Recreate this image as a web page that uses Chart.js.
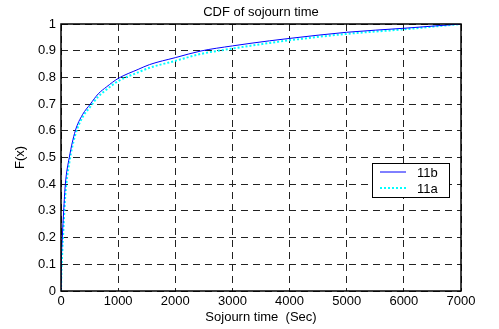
<!DOCTYPE html>
<html>
<head>
<meta charset="utf-8">
<script src="https://cdn.jsdelivr.net/npm/chart.js@4/dist/chart.umd.min.js"></script>
<style>
  html, body { margin: 0; padding: 0; background: #fff; }
  #wrap { width: 499px; height: 329px; }
</style>
</head>
<body>
<div id="wrap"><canvas id="cdf" width="499" height="329"></canvas></div>
<script>
// sojourn time (sec) and CDF values
const times = [0, 6, 23, 47, 76, 145, 250, 375, 513, 650, 800, 1000, 1350, 1550, 2000, 2450, 3000, 3650, 4000, 5000, 6000, 7000];
const cdf11b = [0, 0.1, 0.2, 0.3, 0.4, 0.5, 0.6, 0.66, 0.7, 0.738, 0.765, 0.796, 0.83, 0.848, 0.874, 0.899, 0.918, 0.937, 0.946, 0.969, 0.984, 1.0];
const cdf11a = [0, 0.06, 0.15, 0.25, 0.36, 0.48, 0.585, 0.65, 0.69, 0.728, 0.755, 0.786, 0.819, 0.836, 0.862, 0.888, 0.908, 0.929, 0.939, 0.963, 0.98, 1.0];
const xTicks = [0, 1000, 2000, 3000, 4000, 5000, 6000, 7000];
const yTicks = [0, 0.1, 0.2, 0.3, 0.4, 0.5, 0.6, 0.7, 0.8, 0.9, 1];

const FONT = "'Liberation Sans', Arial, sans-serif";

const toPts = (ys) => times.map((t, i) => ({ x: t, y: ys[i] }));

// MATLAB style box, title and legend inside the axes
const boxPlugin = {
  id: "boxPlugin",
  afterDraw(chart) {
    const { ctx, chartArea: a } = chart;
    ctx.save();
    ctx.strokeStyle = "#000";
    ctx.lineWidth = 1.5;
    ctx.strokeRect(a.left, a.top, a.right - a.left, a.bottom - a.top);

    ctx.fillStyle = "#000";
    ctx.font = "13px " + FONT;
    ctx.textAlign = "center";
    ctx.textBaseline = "middle";
    ctx.fillText("CDF of sojourn time", (a.left + a.right) / 2, 12);

    // legend
    const lx = 372, ly = 163, lw = 77, lh = 34;
    ctx.fillStyle = "#fff";
    ctx.fillRect(lx, ly, lw, lh);
    ctx.strokeStyle = "#000";
    ctx.lineWidth = 1;
    ctx.strokeRect(lx + 0.5, ly + 0.5, lw, lh);
    chart.data.datasets.forEach((ds, i) => {
      const y = ly + 9 + i * 16;
      ctx.strokeStyle = ds.borderColor;
      ctx.lineWidth = ds.borderWidth;
      ctx.setLineDash(ds.borderDash || []);
      ctx.beginPath();
      ctx.moveTo(lx + 8, y);
      ctx.lineTo(lx + 34, y);
      ctx.stroke();
      ctx.setLineDash([]);
      ctx.fillStyle = "#000";
      ctx.textAlign = "left";
      ctx.fillText(ds.label, lx + 45, y + 1);
    });
    ctx.restore();
  }
};

new Chart(document.getElementById("cdf"), {
  type: "scatter",
  data: {
    datasets: [
      {
        label: "11b",
        data: toPts(cdf11b),
        showLine: true,
        borderColor: "#0000ff",
        borderWidth: 1,
        pointRadius: 0,
        cubicInterpolationMode: "monotone",
      },
      {
        label: "11a",
        data: toPts(cdf11a),
        showLine: true,
        borderColor: "#00ffff",
        borderWidth: 2,
        borderDash: [2, 2],
        pointRadius: 0,
        cubicInterpolationMode: "monotone",
      },
    ],
  },
  options: {
    responsive: false,
    animation: false,
    layout: { padding: { left: 0, right: 38, top: 24, bottom: 0 } },
    plugins: {
      legend: { display: false },
      tooltip: { enabled: false },
    },
    scales: {
      x: {
        type: "linear",
        min: 0,
        max: 7000,
        afterFit: (s) => { s.height = 38; },
        afterBuildTicks: (s) => { s.ticks = xTicks.map((v) => ({ value: v })); },
        grid: { color: "#222", drawTicks: false, lineWidth: 1 },
        border: { display: false, dash: [7, 5] },
        ticks: { color: "#000", padding: 3, font: { family: FONT, size: 13 }, maxRotation: 0, callback: (v) => String(v) },
        title: { display: true, text: "Sojourn time  (Sec)", color: "#000", font: { family: FONT, size: 13 }, padding: { top: 0, bottom: 4 } },
      },
      y: {
        min: 0,
        max: 1,
        afterFit: (s) => { s.width = 61; },
        afterBuildTicks: (s) => { s.ticks = yTicks.map((v) => ({ value: v })); },
        grid: { color: "#222", drawTicks: false, lineWidth: 1 },
        border: { display: false, dash: [7, 5] },
        ticks: { color: "#000", padding: 5, font: { family: FONT, size: 13 }, callback: (v) => String(Math.round(v * 10) / 10) },
        title: { display: true, text: "F(x)", color: "#000", font: { family: FONT, size: 13 }, padding: { top: 13, bottom: 0 } },
      },
    },
  },
  plugins: [boxPlugin],
});
</script>
</body>
</html>
